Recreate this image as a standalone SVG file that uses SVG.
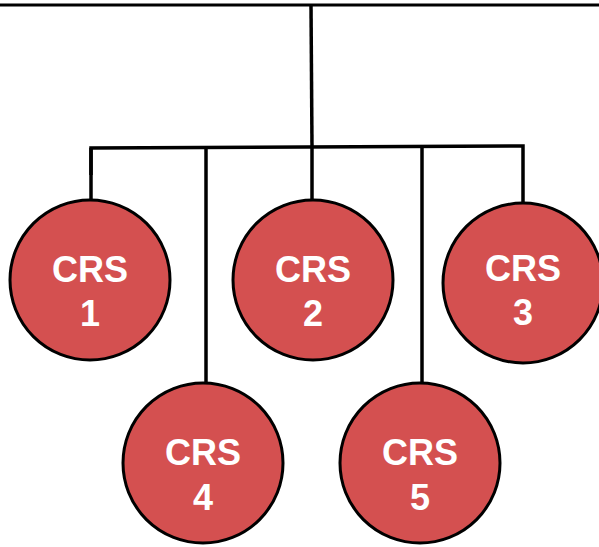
<svg xmlns="http://www.w3.org/2000/svg" width="599" height="547" viewBox="0 0 599 547">
<style>
.node circle{fill:#d45050;stroke:#000;stroke-width:3}
.node text{fill:#fff;font-family:"Liberation Sans",Arial,sans-serif;font-weight:bold;font-size:36px;text-anchor:middle}
.conn{stroke:#000;stroke-width:3.5;fill:none}
</style>
<rect width="599" height="547" fill="#fff"/>
<g id="connectors" class="conn">
<line x1="0" y1="5" x2="599" y2="5" stroke-width="3"/>
<line x1="311" y1="5" x2="312" y2="147"/>
<polyline points="91,175 91,148 523,146 523,205"/>
<line x1="91" y1="148" x2="91" y2="202"/>
<line x1="206" y1="148" x2="206" y2="384"/>
<line x1="312" y1="147" x2="312" y2="202"/>
<line x1="422" y1="147" x2="422" y2="384"/>
</g>
<g id="crs1" class="node"><circle cx="90" cy="280" r="80"/><text x="90" y="282">CRS</text><text x="90" y="326">1</text></g>
<g id="crs2" class="node"><circle cx="313" cy="280" r="80"/><text x="313" y="282">CRS</text><text x="313" y="326">2</text></g>
<g id="crs3" class="node"><circle cx="523" cy="283" r="80"/><text x="523" y="281">CRS</text><text x="523" y="325">3</text></g>
<g id="crs4" class="node"><circle cx="203" cy="463" r="80"/><text x="203" y="465">CRS</text><text x="203" y="510">4</text></g>
<g id="crs5" class="node"><circle cx="420" cy="463" r="80"/><text x="420" y="465">CRS</text><text x="420" y="510">5</text></g>
</svg>
